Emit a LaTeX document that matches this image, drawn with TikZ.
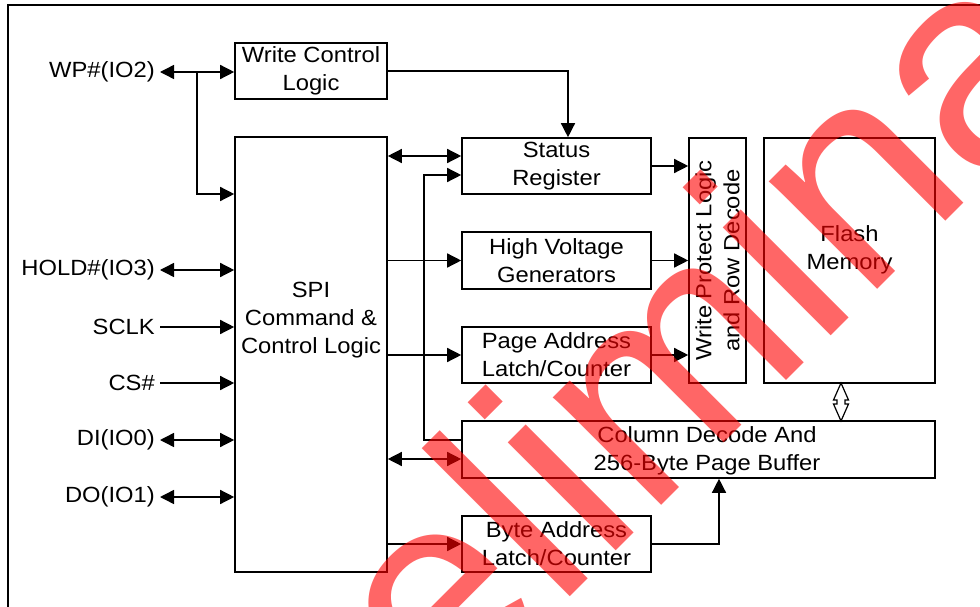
\documentclass[tikz,border=0pt]{standalone}
\usepackage{fontspec}
\setmainfont{Liberation Sans}[FakeStretch=1.08]
\newfontfamily\wmfont{Liberation Sans}
\usetikzlibrary{arrows.meta,calc}
\tikzset{blk/.style={draw,line width=1.6pt,inner sep=0pt,align=center,minimum width=189pt,minimum height=56pt},
 txt/.style={align=center,inner sep=0pt},lbl/.style={anchor=east,inner sep=5pt},
 wire/.style={line width=1.4pt},
 flow/.style={wire,-{Triangle[length=14pt,width=14pt]}},
 both/.style={wire,{Triangle[length=14pt,width=14pt]}-{Triangle[length=14pt,width=14pt]}},
 bus/.style={line width=1.2pt,fill=white,line join=miter},
 wm/.style={text=red,text opacity=.6,rotate=45,anchor=base,inner sep=0pt,font=\wmfont\fontsize{289}{289}\selectfont}}
\begin{document}
\begin{tikzpicture}[x=1pt,y=-1pt,font=\fontsize{22}{28}\selectfont]
\useasboundingbox (0,0) rectangle (980,607);
\draw[line width=1.6pt] (8,607)--(8,5)--(980,5);
\node[blk,minimum width=152pt] (wcl) at (311,71){Write Control\\Logic};
\node[blk,minimum width=152pt,minimum height=435pt] (spi) at (311,354.5){};
\node[txt] at (311,320){SPI\\Command \&\\Control Logic};
\node[blk] (stat) at (556.5,166){Status\\Register};
\node[blk,minimum height=57pt] (hv) at (556.5,260.5){High Voltage\\Generators};
\node[blk] (page) at (556.5,355){Page Address\\Latch/Counter};
\node[blk] (byte) at (556.5,544){Byte Address\\Latch/Counter};
\node[blk,minimum width=473pt,minimum height=57pt] (col) at (698.5,449.5){};
\node[txt] at (707,451){Column Decode And\\256-Byte Page Buffer};
\node[blk,minimum width=57pt,minimum height=245pt] (wprd) at (717.5,260.5){};
\node[txt,rotate=90] at (wprd){Write Protect Logic\\and Row Decode};
\node[blk,minimum width=171pt,minimum height=245pt] (flash) at (849.5,260.5){};
\node[txt] at (849.5,250){Flash\\Memory};
\node[lbl] (wp) at (160,72){WP\#(IO2)};
\node[lbl] (hold) at (160,270){HOLD\#(IO3)};
\node[lbl] (sclk) at (160,327){SCLK};
\node[lbl] (cs) at (160,383){CS\#};
\node[lbl] (di) at (160,440){DI(IO0)};
\node[lbl] (dout) at (160,497){DO(IO1)};
\coordinate (jn) at (197,72);
\draw[both](wp.east)--(wcl.west|-wp.east);
\draw[flow](jn)|-(spi.west|-0,194);
\draw[both](hold.east)--(spi.west|-hold.east);
\draw[flow](sclk.east)--(spi.west|-sclk.east);
\draw[flow](cs.east)--(spi.west|-cs.east);
\draw[both](di.east)--(spi.west|-di.east);
\draw[both](dout.east)--(spi.west|-dout.east);
\draw[flow](wcl.east)-|([xshift=11.5pt]stat.north);
\draw[both](spi.east|-0,156)--(stat.west|-0,156);
\draw[flow](col.west|-0,440)-|(424,175)--(stat.west|-0,175);
\draw[flow](spi.east|-hv.west)--(hv.west);
\draw[flow](spi.east|-page.west)--(page.west);
\draw[both](spi.east|-0,459)--(col.west|-0,459);
\draw[flow](spi.east|-byte.west)--(byte.west);
\draw[flow](stat.east)--(wprd.west|-stat.east);
\draw[flow](hv.east)--(wprd.west|-hv.east);
\draw[flow](page.east)--(wprd.west|-page.east);
\draw[flow](byte.east)-|([xshift=20.5pt]col.south);
\draw[bus,shift={($(flash.south)!.5!(flash.south|-col.north)+(-8.5,0)$)}]
 (0,-19)--(7.5,-2)--(4,-2)--(4,2)--(7.5,2)--(0,19)--(-7.5,2)--(-4,2)--(-4,-2)--(-7.5,-2)--cycle;
\begin{scope}
\clip (0,0) rectangle (980,607);
\node[wm] at (750,417){Preliminary};
\end{scope}
\end{tikzpicture}
\end{document}
